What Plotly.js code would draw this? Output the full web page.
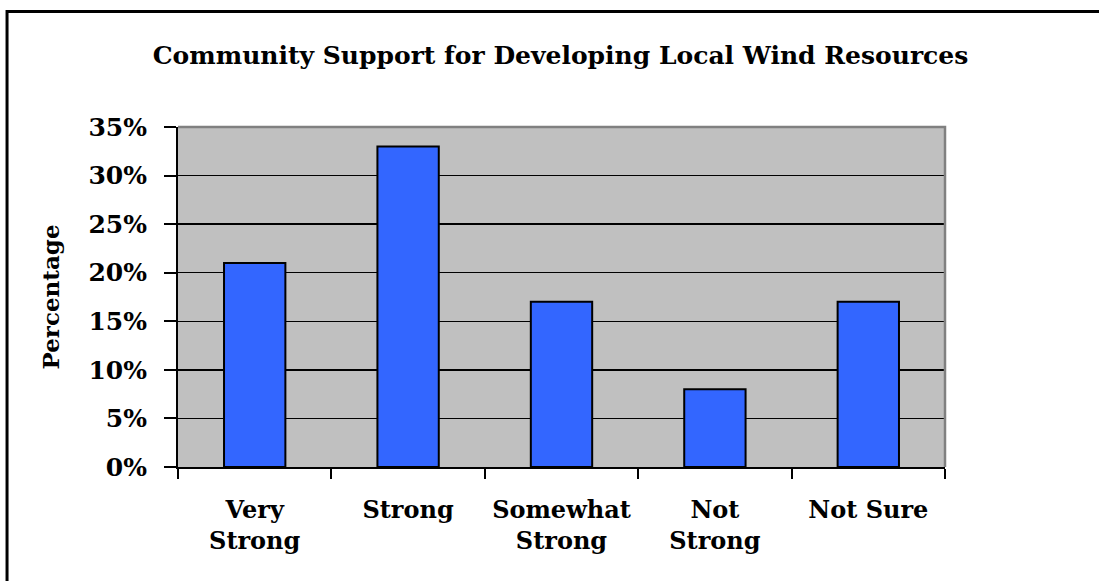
<!DOCTYPE html>
<html>
<head>
<meta charset="utf-8">
<script src="https://cdn.plot.ly/plotly-3.0.1.min.js"></script>
<style>
  html, body { margin: 0; padding: 0; background: #ffffff; }
  #chart { width: 1099px; height: 581px; }
</style>
</head>
<body>
<div id="chart"></div>
<script>
// Survey responses: level of community support
const categories = ["Very<br>Strong", "Strong", "Somewhat<br>Strong", "Not<br>Strong", "Not Sure"];
const percentages = [21, 33, 17, 8, 17];
const yTickValues = [0, 5, 10, 15, 20, 25, 30, 35];
const yTickLabels = ["0%", "5%", "10%", "15%", "20%", "25%", "30%", "35%"];

const serif = "DejaVu Serif, Liberation Serif, serif";

const trace = {
  type: "bar",
  x: categories,
  y: percentages,
  width: 0.4,
  marker: { color: "#3366ff", line: { color: "#000000", width: 2 } },
  hoverinfo: "x+y"
};

const layout = {
  width: 1099,
  height: 581,
  margin: { l: 178, r: 154, t: 127, b: 114 },
  paper_bgcolor: "#ffffff",
  plot_bgcolor: "#c0c0c0",
  showlegend: false,
  bargap: 0.6,
  title: {
    text: "<b>Community Support for Developing Local Wind Resources</b>",
    font: { family: serif, size: 25, color: "#000000" },
    x: 0.51, xanchor: "center",
    y: 0.905, yanchor: "middle"
  },
  xaxis: {
    type: "category",
    tickson: "boundaries",
    tickangle: 0,
    ticks: "outside", ticklen: 10, tickwidth: 2, tickcolor: "#000000",
    showline: true, linecolor: "#000000", linewidth: 2,
    showgrid: false,
    tickfont: { family: serif, size: 24, color: "#000000", weight: "bold" },
    ticklabelstandoff: 20
  },
  yaxis: {
    range: [0, 35],
    tickvals: yTickValues,
    ticktext: yTickLabels,
    ticks: "outside", ticklen: 12, tickwidth: 2, tickcolor: "#000000",
    showline: true, linecolor: "#000000", linewidth: 2,
    showgrid: true, gridcolor: "#000000", gridwidth: 1.5,
    zeroline: false,
    tickfont: { family: serif, size: 25, color: "#000000", weight: "bold" },
    ticklabelstandoff: 12,
    title: {
      text: "<b>Percentage</b>",
      font: { family: serif, size: 23, color: "#000000" },
      standoff: 22
    }
  },
  shapes: [
    // grey top and right edges of the plotting area
    { type: "path", xref: "paper", yref: "paper", layer: "above",
      path: "M 0 1 L 1 1 L 1 0", line: { color: "#808080", width: 2.5 } },
    // frame around the whole figure (left and top edges)
    { type: "path", xref: "paper", yref: "paper", layer: "above",
      path: "M -0.2229 -0.5 L -0.2229 1.3397 L 1.3 1.3397",
      line: { color: "#000000", width: 3 } }
  ]
};

Plotly.newPlot("chart", [trace], layout, { displayModeBar: false, staticPlot: true });
</script>
</body>
</html>
